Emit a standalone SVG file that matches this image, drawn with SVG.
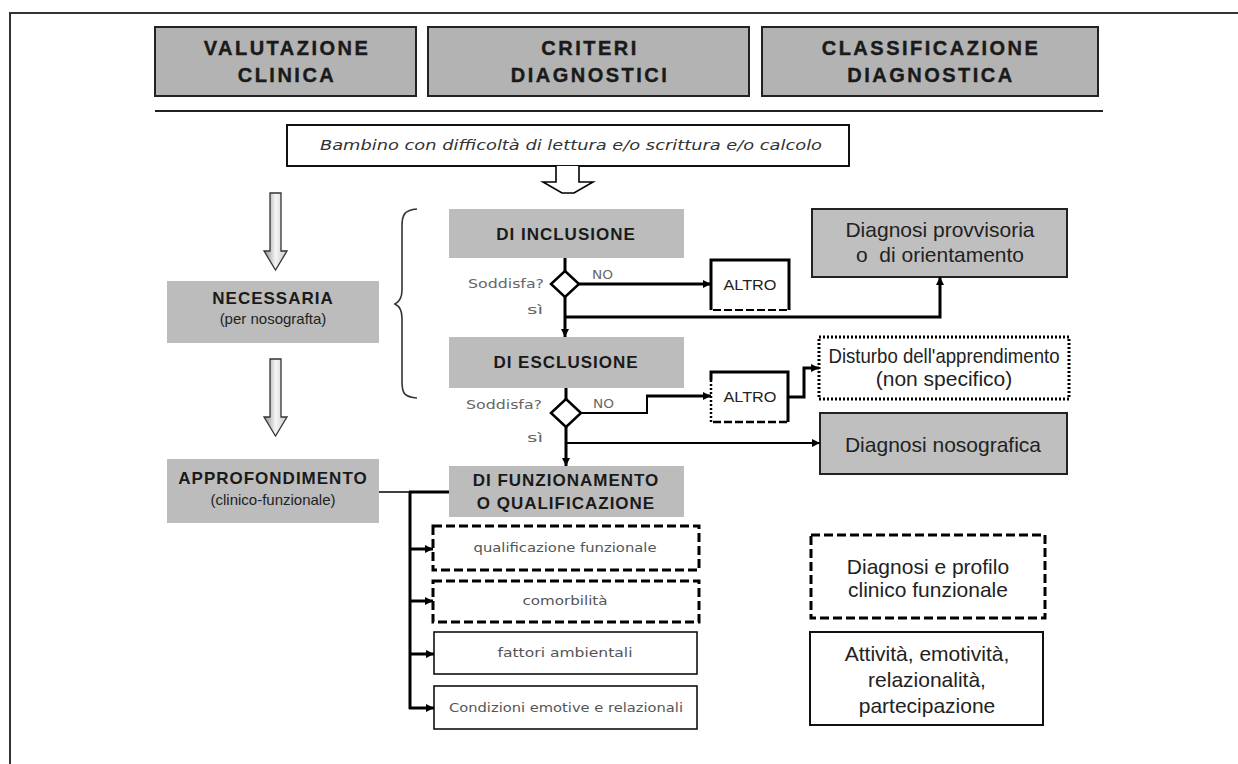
<svg xmlns="http://www.w3.org/2000/svg" width="1238" height="764" viewBox="0 0 1238 764">
<defs>
<style>
.hdr{fill:#b3b3b3;stroke:#222;stroke-width:2}
.ht{font-family:"Liberation Sans",Arial,sans-serif;font-weight:bold;font-size:20px;letter-spacing:2.5px;fill:#1a1a1a;stroke:#1a1a1a;stroke-width:0.4;text-anchor:middle}
.gb{fill:#bcbcbc;stroke:none}
.bt{font-family:"Liberation Sans",Arial,sans-serif;font-weight:bold;font-size:17px;letter-spacing:1px;fill:#1a1a1a;text-anchor:middle}
.st{font-family:"Liberation Sans",Arial,sans-serif;font-size:15px;fill:#222;text-anchor:middle}
.rt{font-family:"Liberation Sans",Arial,sans-serif;font-size:21px;fill:#222;text-anchor:middle}
.ct{font-family:"DejaVu Sans",sans-serif;font-size:12px;fill:#555;text-anchor:middle}
.lt{font-family:"DejaVu Sans",sans-serif;font-size:12px;fill:#666}
.gr{fill:#bfbfbf;stroke:#222;stroke-width:2}
.thick{fill:none;stroke:#000;stroke-width:3}
.thin{fill:none;stroke:#000;stroke-width:2}
.dash{fill:#fff;stroke:#000;stroke-width:3;stroke-dasharray:9 4}
.solid{fill:#fff;stroke:#111;stroke-width:1.6}
</style>
<linearGradient id="ag" x1="0" y1="0" x2="1" y2="0">
<stop offset="0" stop-color="#8c8c8c"/>
<stop offset="0.5" stop-color="#f4f4f4"/>
<stop offset="1" stop-color="#c8c8c8"/>
</linearGradient>
<marker id="ah" viewBox="0 0 8 8" refX="8" refY="4" markerWidth="8" markerHeight="8" markerUnits="userSpaceOnUse" orient="auto">
<path d="M0,0 L8,4 L0,8 z" fill="#000"/>
</marker>
</defs>
<rect x="0" y="0" width="1238" height="764" fill="#fff"/>
<g id="frame">
<line x1="10" y1="13" x2="1238" y2="13" stroke="#333" stroke-width="2"/>
<line x1="10" y1="12" x2="10" y2="764" stroke="#333" stroke-width="2"/>
<line x1="155" y1="111" x2="1103" y2="111" stroke="#222" stroke-width="2"/>
</g>
<g id="h1"><rect class="hdr" x="155" y="27" width="261" height="69"/><text class="ht" x="287" y="55">VALUTAZIONE</text><text class="ht" x="287" y="82">CLINICA</text></g>
<g id="h2"><rect class="hdr" x="428" y="27" width="321" height="69"/><text class="ht" x="590" y="55">CRITERI</text><text class="ht" x="590" y="82">DIAGNOSTICI</text></g>
<g id="h3"><rect class="hdr" x="762" y="27" width="336" height="69"/><text class="ht" x="931" y="55">CLASSIFICAZIONE</text><text class="ht" x="931" y="82">DIAGNOSTICA</text></g>

<g id="input"><rect x="287" y="125" width="562" height="41" fill="#fff" stroke="#111" stroke-width="2"/>
<text x="571" y="150" font-family="DejaVu Sans, sans-serif" font-style="italic" font-size="14" fill="#333" text-anchor="middle" textLength="502" lengthAdjust="spacingAndGlyphs">Bambino con difficoltà di lettura e/o scrittura e/o calcolo</text></g>

<g id="hollow-arrow"><path d="M556,166 L556,182 L543,182 L562,193 L574,193 L593,182 L579,182 L579,166" fill="#fff" stroke="#000" stroke-width="1.6"/></g>

<g id="arrow-left-1"><path d="M270,193 L281,193 L281,251 L287,251 L275.5,270 L264,251 L270,251 z" fill="url(#ag)" stroke="#333" stroke-width="1.3"/></g>
<g id="arrow-left-2"><path d="M270,359 L281,359 L281,417 L287,417 L275.5,436 L264,417 L270,417 z" fill="url(#ag)" stroke="#333" stroke-width="1.3"/></g>

<g id="necessaria"><rect class="gb" x="167" y="281" width="212" height="62"/><text class="bt" x="273" y="304" font-size="18">NECESSARIA</text><text class="st" x="273" y="324">(per nosografta)</text></g>
<g id="approfondimento"><rect class="gb" x="167" y="459" width="212" height="64"/><text class="bt" x="273" y="484">APPROFONDIMENTO</text><text class="st" x="273" y="505">(clinico-funzionale)</text></g>

<g id="brace"><path d="M417,209 C405,210 402,214 402,226 L402,290 C402,298 399,302 395,304 C399,306 402,310 402,318 L402,382 C402,394 405,397 417,398" fill="none" stroke="#333" stroke-width="1.6"/></g>

<g id="inclusione"><rect class="gb" x="449" y="209" width="235" height="49"/><text class="bt" x="566" y="240">DI  INCLUSIONE</text></g>
<g id="esclusione"><rect class="gb" x="449" y="337" width="235" height="51"/><text class="bt" x="566" y="368">DI  ESCLUSIONE</text></g>
<g id="funzionamento"><rect class="gb" x="449" y="466" width="235" height="51"/><text class="bt" x="566" y="486">DI  FUNZIONAMENTO</text><text class="bt" x="566" y="509">O  QUALIFICAZIONE</text></g>

<g id="decision1"><path d="M565,271 L579,284 L565,297 L551,284 z" fill="#fff" stroke="#000" stroke-width="2.5"/>
<text class="lt" x="544" y="288" text-anchor="end" textLength="76" lengthAdjust="spacingAndGlyphs">Soddisfa?</text>
<text class="lt" x="592" y="279" textLength="21" lengthAdjust="spacingAndGlyphs">NO</text>
<text class="lt" x="527" y="314" textLength="16" lengthAdjust="spacingAndGlyphs">sì</text></g>
<g id="decision2"><path d="M566,399 L581,413 L566,427 L551,413 z" fill="#fff" stroke="#000" stroke-width="2.5"/>
<text class="lt" x="542" y="409" text-anchor="end" textLength="76" lengthAdjust="spacingAndGlyphs">Soddisfa?</text>
<text class="lt" x="593" y="408" textLength="21" lengthAdjust="spacingAndGlyphs">NO</text>
<text class="lt" x="527" y="442" textLength="16" lengthAdjust="spacingAndGlyphs">sì</text></g>

<g id="altro1"><path d="M711,310 L711,260 L789,260 L789,310" class="thick"/><line x1="713" y1="310" x2="789" y2="310" stroke="#000" stroke-width="2" stroke-dasharray="8 3"/>
<text class="st" x="750" y="290" textLength="53" lengthAdjust="spacingAndGlyphs">ALTRO</text></g>
<g id="altro2"><path d="M711,380 L711,372 L788,372 L788,422" class="thick"/><line x1="711" y1="380" x2="711" y2="422" stroke="#000" stroke-width="2.5" stroke-dasharray="2 2"/><line x1="713" y1="422" x2="788" y2="422" stroke="#000" stroke-width="2.5" stroke-dasharray="8 3"/>
<text class="st" x="750" y="402" textLength="53" lengthAdjust="spacingAndGlyphs">ALTRO</text></g>

<g id="diag-provvisoria"><rect class="gr" x="812" y="209" width="255" height="68"/><text class="rt" x="940" y="237">Diagnosi provvisoria</text><text class="rt" x="940" y="262" xml:space="preserve">o  di orientamento</text></g>
<g id="disturbo"><rect x="819" y="337" width="250" height="62" fill="#fff" stroke="#000" stroke-width="3" stroke-dasharray="2 2"/><text class="rt" x="944" y="363" font-size="17" textLength="231" lengthAdjust="spacingAndGlyphs">Disturbo dell'apprendimento</text><text class="rt" x="944" y="386" font-size="17">(non specifico)</text></g>
<g id="diag-nosografica"><rect class="gr" x="820" y="413" width="247" height="61"/><text class="rt" x="943" y="452">Diagnosi nosografica</text></g>

<g id="qualif"><rect class="dash" x="433" y="526" width="266" height="44"/><text class="ct" x="565" y="552" textLength="183" lengthAdjust="spacingAndGlyphs">qualificazione funzionale</text></g>
<g id="comorb"><rect class="dash" x="433" y="581" width="266" height="41"/><text class="ct" x="565" y="605" textLength="85" lengthAdjust="spacingAndGlyphs">comorbilità</text></g>
<g id="fattori"><rect class="solid" x="434" y="632" width="263" height="42"/><text class="ct" x="565" y="657" textLength="135" lengthAdjust="spacingAndGlyphs">fattori ambientali</text></g>
<g id="condizioni"><rect class="solid" x="434" y="686" width="263" height="43"/><text class="ct" x="566" y="712" textLength="234" lengthAdjust="spacingAndGlyphs">Condizioni emotive e relazionali</text></g>

<g id="profilo"><rect class="dash" x="811" y="535" width="234" height="83"/><text class="rt" x="928" y="574">Diagnosi e profilo</text><text class="rt" x="928" y="597">clinico funzionale</text></g>
<g id="attivita"><rect x="810" y="632" width="233" height="93" fill="#fff" stroke="#111" stroke-width="2"/><text class="rt" x="927" y="661">Attività, emotività,</text><text class="rt" x="927" y="687">relazionalità,</text><text class="rt" x="927" y="713">partecipazione</text></g>

<g id="connectors">
<line class="thick" x1="565" y1="258" x2="565" y2="271"/>
<line class="thick" x1="565" y1="297" x2="565" y2="337" marker-end="url(#ah)"/>
<line class="thick" x1="579" y1="284" x2="711" y2="284" marker-end="url(#ah)"/>
<polyline class="thick" points="565,317 940,317 940,277" marker-end="url(#ah)"/>
<line class="thick" x1="566" y1="388" x2="566" y2="399"/>
<line class="thick" x1="566" y1="427" x2="566" y2="466" marker-end="url(#ah)"/>
<polyline class="thin" points="581,413 647,413 647,396"/>
<line class="thick" x1="646" y1="396" x2="711" y2="396" marker-end="url(#ah)"/>
<line class="thin" x1="566" y1="443" x2="820" y2="443" marker-end="url(#ah)"/>
<polyline class="thick" points="788,397 804,397 804,368 819,368" marker-end="url(#ah)"/>
<line x1="379" y1="492" x2="410" y2="492" stroke="#000" stroke-width="1.5"/>
<line class="thick" x1="409" y1="492" x2="449" y2="492"/>
<line class="thick" x1="410" y1="492" x2="410" y2="709"/>
<line class="thick" x1="409" y1="549" x2="433" y2="549" marker-end="url(#ah)"/>
<line class="thick" x1="409" y1="601" x2="433" y2="601" marker-end="url(#ah)"/>
<line class="thick" x1="409" y1="654" x2="434" y2="654" marker-end="url(#ah)"/>
<line class="thick" x1="409" y1="708" x2="434" y2="708" marker-end="url(#ah)"/>
</g>
</svg>
